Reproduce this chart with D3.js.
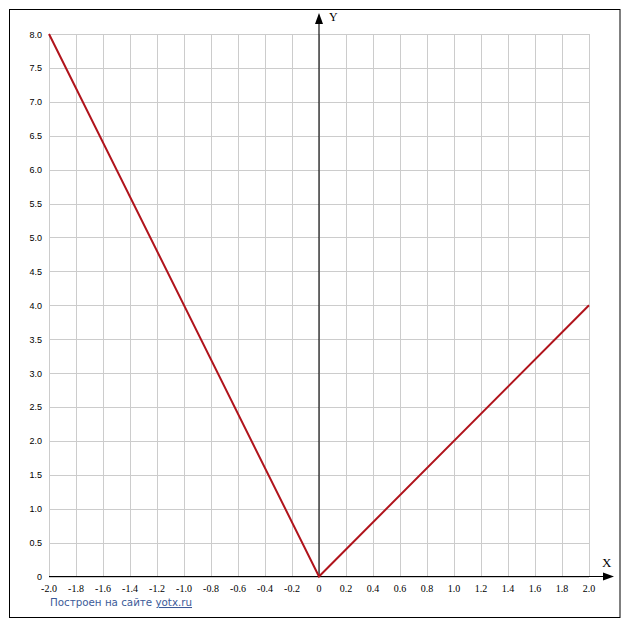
<!DOCTYPE html>
<html><head><meta charset="utf-8">
<script src="https://cdn.jsdelivr.net/npm/d3@7/dist/d3.min.js"></script>
<style>body{margin:0;background:#fff}svg{display:block}</style>
</head><body>
<svg id="c" width="627" height="630"></svg>
<script>
const xPoints = [-2, 0, 2];
const yPoints = [8, 0, 4];
const xTicks = [-2.0,-1.8,-1.6,-1.4,-1.2,-1.0,-0.8,-0.6,-0.4,-0.2,0,0.2,0.4,0.6,0.8,1.0,1.2,1.4,1.6,1.8,2.0];
const yTicks = [0,0.5,1.0,1.5,2.0,2.5,3.0,3.5,4.0,4.5,5.0,5.5,6.0,6.5,7.0,7.5,8.0];
const footerText = "Построен на сайте ";
const footerLink = "yotx.ru";

const svg = d3.select("#c");
const x = d3.scaleLinear().domain([-2, 2]).range([49, 589]);
const y = d3.scaleLinear().domain([0, 8]).range([576.5, 34]);

svg.append("rect").attr("x", 9.5).attr("y", 9.5).attr("width", 610.5).attr("height", 608)
  .attr("fill", "#fff").attr("stroke", "#000").attr("stroke-width", 1);

const fmt = v => v === 0 ? "0" : v.toFixed(1);

// grid
const g = svg.append("g").attr("stroke", "#cccccc").attr("stroke-width", 1).attr("shape-rendering", "crispEdges");
g.selectAll("line.v").data(xTicks).join("line")
  .attr("x1", d => Math.round(x(d)) + 0.5).attr("x2", d => Math.round(x(d)) + 0.5)
  .attr("y1", y(8)).attr("y2", y(0));
g.selectAll("line.h").data(yTicks).join("line").attr("class","h")
  .attr("y1", d => Math.round(y(d)) + 0.5).attr("y2", d => Math.round(y(d)) + 0.5)
  .attr("x1", x(-2)).attr("x2", x(2));

// axes
const ax = svg.append("g").attr("stroke", "#000").attr("stroke-width", 1.1);
ax.append("line").attr("x1", x(-2)).attr("x2", 606).attr("y1", y(0)).attr("y2", y(0));
ax.append("line").attr("x1", x(0)).attr("x2", x(0)).attr("y1", y(0)).attr("y2", 20);
svg.append("path").attr("d", `M${x(0)},13 L${x(0)-4},24 L${x(0)+4},24 Z`).attr("fill", "#000");
svg.append("path").attr("d", `M614,${y(0)} L603,${y(0)-4} L603,${y(0)+4} Z`).attr("fill", "#000");

svg.append("text").attr("x", 329).attr("y", 21).text("Y")
  .attr("font-family", "Liberation Serif").attr("font-size", 12).attr("fill", "#000");
svg.append("text").attr("x", 602).attr("y", 567).text("X")
  .attr("font-family", "Liberation Serif").attr("font-size", 13).attr("fill", "#000");

// tick labels
svg.append("g").selectAll("text").data(xTicks).join("text")
  .attr("x", d => x(d)).attr("y", 591.5).attr("text-anchor", "middle")
  .attr("font-family", "Liberation Serif").attr("font-size", 10).attr("fill", "#000")
  .text(fmt);
svg.append("g").selectAll("text").data(yTicks).join("text")
  .attr("x", 42).attr("y", d => y(d) + 3.5).attr("text-anchor", "end")
  .attr("font-family", "Liberation Sans").attr("font-size", 9).attr("fill", "#000")
  .text(fmt);

// curve
const pts = xPoints.map((v, i) => [v, yPoints[i]]);
svg.append("path").datum(pts)
  .attr("d", d3.line().x(d => x(d[0])).y(d => y(d[1])))
  .attr("fill", "none").attr("stroke", "#b0141c").attr("stroke-width", 2);

// footer
const ft = svg.append("text").attr("x", 50).attr("y", 606)
  .attr("font-family", "DejaVu Sans").attr("font-size", 10.3).attr("fill", "#3b5a98");
ft.append("tspan").text(footerText);
ft.append("tspan").attr("text-decoration", "underline").text(footerLink);
</script>
</body></html>
